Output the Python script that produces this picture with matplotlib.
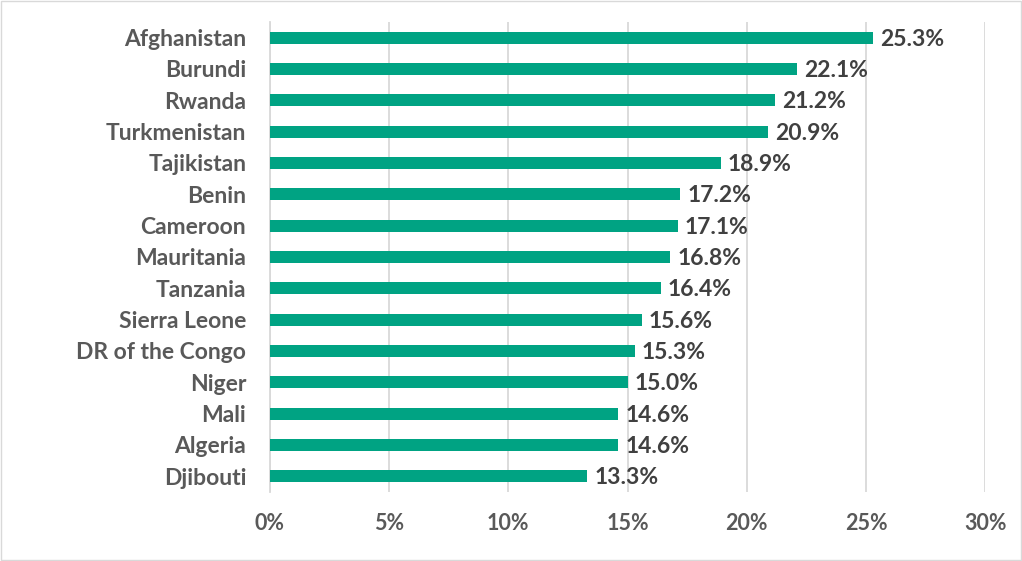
import matplotlib.pyplot as plt
from matplotlib.patches import Rectangle

countries = ["Afghanistan", "Burundi", "Rwanda", "Turkmenistan", "Tajikistan", "Benin",
             "Cameroon", "Mauritania", "Tanzania", "Sierra Leone", "DR of the Congo",
             "Niger", "Mali", "Algeria", "Djibouti"]
values = [25.3, 22.1, 21.2, 20.9, 18.9, 17.2, 17.1, 16.8, 16.4, 15.6, 15.3, 15.0, 14.6, 14.6, 13.3]
xticks = [0, 5, 10, 15, 20, 25, 30]

plt.rcParams['font.family'] = ['Lato', 'DejaVu Sans']

fig = plt.figure(figsize=(10.22, 5.61), dpi=100)
ax = fig.add_axes([0.264, 0.123, 0.700, 0.838])

ypos = list(range(len(countries)))
ax.barh(ypos, values, height=0.38, color="#00a383", zorder=3)
for y, v in zip(ypos, values):
    ax.text(v + 0.3, y + 0.05, f"{v:.1f}%", va="center", ha="left",
            fontsize=16.5, fontweight="bold", color="#404040")

ax.set_ylim(len(countries) - 0.5, -0.5)
ax.set_yticks(ypos)
ax.set_yticklabels(countries, fontsize=16.5, fontweight="bold", color="#595959")
ax.set_xlim(0, 30)
ax.set_xticks(xticks)
ax.set_xticklabels([f"{t}%" for t in xticks], fontsize=15.5, fontweight="bold", color="#595959")
ax.tick_params(axis="both", length=0)
ax.tick_params(axis="y", pad=17)
ax.tick_params(axis="x", pad=15)
ax.grid(axis="x", color="#d9d9d9", linewidth=1.3, zorder=0)
for s in ["top", "right", "bottom"]:
    ax.spines[s].set_visible(False)
ax.spines["left"].set_color("#d9d9d9")
ax.spines["left"].set_linewidth(1.3)

fig.patches.append(Rectangle((0.001, 0.002), 0.998, 0.996, transform=fig.transFigure,
                             fill=False, edgecolor="#d9d9d9", linewidth=1))

plt.savefig("out.png", dpi=100)
